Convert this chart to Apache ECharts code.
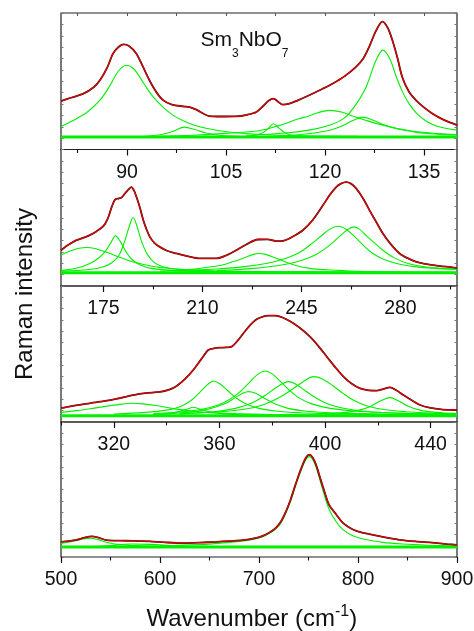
<!DOCTYPE html>
<html><head><meta charset="utf-8">
<script src="https://cdn.jsdelivr.net/npm/echarts@6/dist/echarts.min.js"></script>
<style>html,body{margin:0;padding:0;background:#fff}#c{width:474px;height:631px}</style>
</head><body><div id="c"></div>
<script>
// ---------- axis ranges and tick labels ----------
const p1Range = [80, 140], p1Major = [90, 105, 120, 135], p1Minor = [82.5, 97.5, 112.5, 127.5];
const p2Range = [160, 300], p2Major = [175, 210, 245, 280], p2Minor = [192.5, 227.5, 262.5, 297.5];
const p3Range = [300, 450], p3Major = [320, 360, 400, 440], p3Minor = [300, 340, 380, 420];
const p4Range = [500, 900], p4Major = [500, 600, 700, 800, 900], p4Minor = [550, 650, 750, 850];

// ---------- panel 1 (80-140) ----------
const p1Fit = [[80,4.26],[81.5,4.55],[83.4,4.91],[85,5.5],[85.9,6.09],[87,7.2],[87.9,8.45],[88.8,9.05],[89.5,9.24],[90.3,9.1],[91.4,8.45],[92.4,7.3],[93.4,6.09],[94.5,5.0],[95.5,4.32],[96.8,3.95],[98.5,3.79],[99.5,3.72],[100.5,3.5],[102.5,2.94],[104.5,2.9],[106.5,2.91],[108.2,3.05],[109.6,3.29],[110.6,3.8],[111.5,4.3],[112.2,4.47],[112.9,4.2],[113.6,3.94],[114.6,4.03],[115.8,4.3],[117.6,4.77],[119.5,5.3],[121.2,5.8],[123,6.45],[124.7,7.27],[125.8,8.0],[126.7,9.03],[127.7,10.4],[128.7,11.24],[129.5,10.7],[130.2,9.62],[131,8.0],[131.7,6.38],[132.7,5.1],[133.8,4.32],[135,3.7],[136.3,3.15],[138,2.6],[140,2.15]];
const p1Base = [[80,1.09],[140,1.09]];
const p1G1 = [[80,2.03],[82,2.6],[84,3.3],[86,4.4],[87.5,5.7],[88.7,6.9],[89.9,7.41],[91,7.1],[92,6.3],[93,5.4],[94,4.6],[95.5,3.7],[97,3.0],[99,2.4],[101,2.0],[104,1.65],[108,1.4],[115,1.22],[125,1.15],[140,1.1]];
const p1G2 = [[92,1.12],[95,1.3],[97,1.6],[98.7,1.97],[100.3,1.75],[102,1.45],[104,1.25],[108,1.13],[112,1.1]];
const p1G3 = [[106,1.1],[109,1.2],[110.5,1.45],[111.4,1.85],[112.2,2.27],[113,1.9],[114,1.45],[115.5,1.2],[118,1.1]];
const p1G4 = [[95,1.15],[100,1.25],[105,1.42],[110,1.65],[113,2.1],[116,2.7],[117.6,2.95],[119,3.25],[120.7,3.44],[122.5,3.3],[124.2,2.95],[126,2.6],[128,2.25],[131,1.85],[134,1.55],[137,1.4],[140,1.3]];
const p1G5 = [[112,1.15],[116,1.3],[120,1.6],[122.5,2.05],[124.2,2.55],[125.7,2.85],[127.2,2.6],[129,2.15],[131,1.8],[134,1.5],[137,1.35],[140,1.27]];
const p1G6 = [[108,1.25],[114,1.45],[118,1.75],[121,2.2],[123,2.8],[124.7,3.97],[126,5.2],[126.7,6.2],[127.7,7.8],[128.8,8.74],[129.8,8.0],[130.8,6.4],[131.8,5.0],[132.8,3.97],[134,3.1],[135.3,2.5],[137,2.05],[140,1.7]];

// ---------- panel 2 (160-300) ----------
const p2Fit = [[160,3.15],[162.5,3.6],[165.5,4.03],[168,4.25],[170.2,4.47],[172.5,4.8],[174.9,5.25],[176.5,5.9],[178,7.0],[179.1,7.59],[180.5,7.7],[181.4,7.77],[182.5,8.1],[183.4,8.35],[184.9,8.7],[185.8,8.4],[186.7,7.82],[188,6.8],[189.1,5.78],[190.2,5.0],[191.4,4.32],[193,3.8],[194.9,3.44],[197.5,3.1],[200.8,2.86],[205,2.6],[209.1,2.42],[215,2.42],[218.5,2.7],[222,3.15],[225.5,3.65],[229.6,4.09],[233,4.1],[236,3.95],[238.5,3.97],[242,4.35],[245.5,4.9],[249,5.8],[252.6,7.09],[255,8.0],[257.3,8.7],[259,9.0],[260.8,9.13],[262.5,9.0],[264.4,8.56],[266.8,7.7],[269.1,6.65],[271.5,5.6],[273.8,4.61],[276.5,3.7],[279.7,2.86],[282.5,2.45],[285.6,2.13],[291.4,1.84],[298.5,1.64],[300,1.6]];
const p2Base = [[160,1.17],[300,1.17]];
const p2G1 = [[160,2.72],[163,3.05],[166,3.3],[169,3.39],[172,3.3],[175,3.05],[178,2.8],[181,2.5],[185,2.15],[190,1.85],[196,1.6],[205,1.42],[215,1.32],[235,1.25],[260,1.21],[300,1.19]];
const p2G2 = [[160,1.35],[166,1.6],[170,1.95],[173,2.4],[175.5,3.0],[177.5,3.75],[179.3,4.41],[181,3.9],[183,3.0],[185,2.35],[188,1.85],[192,1.55],[200,1.35],[215,1.24],[240,1.2],[300,1.18]];
const p2G3 = [[160,1.3],[170,1.45],[175,1.7],[178,2.05],[180.5,2.7],[182.6,4.0],[184.2,5.3],[185.5,6.02],[186.8,5.3],[188.5,3.9],[190.5,2.8],[193,2.05],[196,1.7],[202,1.45],[215,1.3],[240,1.22],[300,1.18]];
const p2G4 = [[195,1.3],[205,1.45],[212,1.65],[217,1.85],[221,2.15],[225,2.5],[228,2.78],[230,2.86],[232,2.8],[235,2.55],[239,2.15],[243,1.8],[248,1.55],[255,1.4],[265,1.3],[280,1.23],[300,1.2]];
const p2G5 = [[200,1.35],[215,1.5],[225,1.7],[233,2.0],[239,2.4],[244,2.9],[248,3.6],[252,4.4],[255,5.0],[257.9,5.25],[261,4.95],[264,4.3],[267,3.55],[270,2.9],[274,2.35],[279,1.95],[285,1.7],[292,1.55],[300,1.47]];
const p2G6 = [[215,1.35],[228,1.55],[238,1.85],[245,2.25],[250,2.75],[254,3.4],[258,4.25],[261,4.9],[263.4,5.2],[265.5,5.0],[268,4.4],[271,3.75],[274,3.1],[278,2.45],[283,1.95],[290,1.65],[300,1.48]];

// ---------- panel 3 (300-450) ----------
const p3Fit = [[300,1.22],[305,1.45],[310,1.62],[314.8,1.79],[320,2.0],[327.4,2.38],[332,2.55],[337.5,2.65],[341,2.85],[343.8,3.18],[347,3.8],[350.1,4.59],[353,5.5],[355.8,6.35],[358,6.5],[360.2,6.56],[362.5,6.58],[364.7,6.65],[367,7.2],[369.1,7.83],[371.5,8.5],[374.1,9.06],[376.5,9.3],[378.5,9.38],[381,9.38],[383,9.3],[385.5,9.05],[388,8.71],[391,8.2],[394.3,7.53],[397.5,6.7],[400.7,5.76],[404,4.8],[407,4.0],[410,3.4],[413.3,2.97],[416.5,2.8],[419.6,2.76],[422,2.9],[424.6,3.06],[427,2.8],[429.7,2.38],[433,1.9],[436,1.5],[440,1.25],[444,1.12],[448.6,1.06],[450,1.05]];
const p3Base = [[300,0.56],[450,0.56]];
const p3G1 = [[300,0.85],[306,1.0],[312,1.2],[318,1.42],[323,1.58],[326.8,1.65],[331,1.6],[336,1.45],[342,1.2],[348,1.0],[355,0.85],[365,0.74],[380,0.66],[400,0.62],[450,0.58]];
const p3G2 = [[335,0.62],[341,0.75],[345,0.95],[348,1.15],[350.1,1.3],[352.5,1.15],[356,0.92],[361,0.74],[368,0.64],[380,0.6]];
const p3G3 = [[320,0.7],[332,0.85],[340,1.05],[345,1.35],[349,1.85],[352.5,2.6],[355.5,3.3],[357.7,3.62],[360,3.4],[363,2.8],[366.5,2.1],[370,1.6],[375,1.2],[382,0.95],[392,0.8],[410,0.7],[440,0.63]];
const p3G4 = [[335,0.68],[348,0.85],[356,1.15],[362,1.6],[366,2.15],[369,2.55],[371,2.68],[373.5,2.55],[377,2.1],[381,1.6],[386,1.2],[393,0.95],[405,0.78],[425,0.68],[450,0.63]];
const p3G5 = [[335,0.75],[348,0.95],[356,1.25],[362,1.75],[367,2.5],[371,3.4],[374.5,4.2],[377.3,4.5],[380,4.25],[383,3.6],[386.5,2.8],[390,2.15],[395,1.6],[402,1.2],[412,0.95],[430,0.76],[450,0.68]];
const p3G6 = [[345,0.72],[358,0.9],[366,1.2],[372,1.65],[377,2.3],[381,2.95],[384,3.4],[386.1,3.56],[388.5,3.4],[392,2.85],[396,2.2],[400,1.7],[406,1.25],[415,0.95],[430,0.76],[450,0.68]];
const p3G7 = [[345,0.72],[360,0.9],[370,1.15],[377,1.55],[383,2.2],[388,2.95],[392,3.6],[395.6,4.0],[399,3.8],[403,3.2],[407,2.5],[411,1.9],[416,1.42],[423,1.08],[432,0.88],[450,0.72]];
const p3G8 = [[400,0.7],[408,0.85],[413,1.05],[417,1.35],[421,1.85],[424.6,2.15],[428,1.85],[431.5,1.4],[436,1.05],[442,0.85],[450,0.74]];

// ---------- panel 4 (500-900) ----------
const p4Fit = [[500,1.35],[508,1.42],[515.8,1.53],[523,1.7],[530.9,1.83],[538,1.72],[546,1.5],[560,1.45],[572.8,1.44],[590,1.38],[605,1.3],[623.2,1.24],[640,1.28],[656.9,1.35],[670,1.42],[683.7,1.5],[695,1.65],[703.8,1.88],[711,2.2],[717.3,2.62],[722.5,3.2],[727.4,4.09],[731.5,5.0],[735.8,6.15],[740,7.25],[744.1,8.21],[747.5,8.85],[750.9,9.09],[754.2,8.85],[757.6,8.21],[761.5,7.1],[766,5.85],[771,4.6],[777.8,3.8],[784,3.1],[791.2,2.62],[799,2.3],[808,2.09],[825,1.78],[841.6,1.53],[858,1.38],[875.1,1.27],[890,1.15],[900,1.08]];
const p4Base = [[500,0.88],[900,0.88]];
const p4G1 = [[500,1.2],[510,1.35],[520,1.55],[529,1.68],[538,1.52],[548,1.27],[560,1.1],[580,0.99],[620,0.94],[700,0.92]];
const p4G2 = [[600,1.0],[640,1.1],[670,1.3],[690,1.5],[703.8,1.8],[711,2.12],[717.3,2.52],[722.5,3.08],[727.4,3.95],[731.5,4.85],[735.8,6.0],[740,7.1],[744.1,8.05],[747.5,8.68],[750.9,8.92],[754.2,8.68],[757.6,8.0],[761.5,6.85],[766,5.5],[771,4.2],[777.8,3.15],[784,2.5],[791.2,2.05],[799,1.75],[808,1.55],[825,1.3],[845,1.15],[870,1.05],[900,0.98]];
const p4G3 = [[530,0.92],[550,1.02],[570,1.15],[590,1.12],[615,1.0],[640,0.93]];

// ---------- build ----------
const FONT = '"Liberation Sans", Arial, sans-serif';
const panels = [
  {top: 13, height: 136.5, range: p1Range, major: p1Major, minor: p1Minor, fit: p1Fit, base: p1Base, comps: [p1G1,p1G2,p1G3,p1G4,p1G5,p1G6]},
  {top: 149.5, height: 136.5, range: p2Range, major: p2Major, minor: p2Minor, fit: p2Fit, base: p2Base, comps: [p2G1,p2G2,p2G3,p2G4,p2G5,p2G6]},
  {top: 286, height: 136, range: p3Range, major: p3Major, minor: p3Minor, fit: p3Fit, base: p3Base, comps: [p3G1,p3G2,p3G3,p3G4,p3G5,p3G6,p3G7,p3G8]},
  {top: 422, height: 135, range: p4Range, major: p4Major, minor: p4Minor, fit: p4Fit, base: p4Base, comps: [p4G1,p4G2,p4G3]}
];

const grid = [], xAxis = [], yAxis = [], series = [];
panels.forEach((p, i) => {
  grid.push({left: 61, width: 396, top: p.top, height: p.height, show: true,
    borderColor: '#222', borderWidth: 1.2, backgroundColor: 'transparent',
    containLabel: false, outerBoundsMode: 'none'});
  xAxis.push({gridIndex: i, type: 'value', min: p.range[0], max: p.range[1], position: 'bottom',
    axisLine: {show: false}, splitLine: {show: false},
    axisTick: {show: true, inside: false, length: 6, customValues: p.major, lineStyle: {color: '#111', width: 1.2}},
    axisLabel: {show: true, customValues: p.major, fontSize: 19.5, color: '#111', fontFamily: FONT, margin: 13,
      showMinLabel: true, showMaxLabel: true}});
  xAxis.push({gridIndex: i, type: 'value', min: p.range[0], max: p.range[1], position: 'bottom',
    axisLine: {show: false}, splitLine: {show: false},
    axisTick: {show: true, inside: false, length: 3.5, customValues: p.minor, lineStyle: {color: '#111', width: 1.1}},
    axisLabel: {show: false}});
  yAxis.push({gridIndex: i, type: 'value', min: 0, max: 12, interval: 1, position: 'left',
    axisLine: {show: false}, splitLine: {show: false}, axisLabel: {show: false},
    axisTick: {show: true, inside: true, length: 2.5, lineStyle: {color: '#777', width: 1}}});
  yAxis.push({gridIndex: i, type: 'value', min: 0, max: 12, interval: 1, position: 'right',
    axisLine: {show: false}, splitLine: {show: false}, axisLabel: {show: false},
    axisTick: {show: true, inside: true, length: 2.5, lineStyle: {color: '#777', width: 1}}});

  const common = {type: 'line', xAxisIndex: 2 * i, yAxisIndex: 2 * i, showSymbol: false, symbol: 'none',
    silent: true, animation: false};
  series.push(Object.assign({}, common, {data: p.base, lineStyle: {color: '#00f000', width: 3}}));
  p.comps.forEach(c => series.push(Object.assign({}, common, {data: c, smooth: 0.35,
    lineStyle: {color: '#00f000', width: 1.1}})));
  series.push(Object.assign({}, common, {data: p.fit, smooth: 0.3, lineStyle: {color: '#222', width: 1.8}}));
  series.push(Object.assign({}, common, {data: p.fit, smooth: 0.3, lineStyle: {color: '#e00000', width: 1.3}}));
});
// top ticks (inward) for the first panel
xAxis.push({gridIndex: 0, type: 'value', min: p1Range[0], max: p1Range[1], position: 'top',
  axisLine: {show: false}, splitLine: {show: false}, axisLabel: {show: false},
  axisTick: {show: true, inside: true, length: 3, customValues: p1Minor.concat(p1Major).sort((a,b)=>a-b),
    lineStyle: {color: '#555', width: 1}}});

const chart = echarts.init(document.getElementById('c'), null, {renderer: 'canvas'});
chart.setOption({
  animation: false,
  backgroundColor: '#fff',
  grid, xAxis, yAxis, series,
  graphic: [
    {type: 'text', x: 200.5, y: 40.0, silent: true, style: {
      text: '{m|Sm}{s|3}{m|NbO}{s|7}', align: 'left', verticalAlign: 'middle', fill: '#111',
      rich: {m: {fontSize: 21, lineHeight: 40, fontFamily: FONT, fill: '#111'},
             s: {fontSize: 12, lineHeight: 12, verticalAlign: 'bottom', fontFamily: FONT, fill: '#111'}}}},
    {type: 'text', x: 146.5, y: 619.7, silent: true, style: {
      text: '{m|Wavenumber (cm}{s|-1}{m|)}', align: 'left', verticalAlign: 'middle', fill: '#111',
      rich: {m: {fontSize: 24, lineHeight: 33, fontFamily: FONT, fill: '#111'},
             s: {fontSize: 16, lineHeight: 16, verticalAlign: 'top', fontFamily: FONT, fill: '#111'}}}},
    {type: 'text', x: 25, y: 294, rotation: Math.PI / 2, silent: true, style: {
      text: 'Raman intensity', fontSize: 24, fontFamily: FONT, fill: '#111', align: 'center', verticalAlign: 'middle'}}
  ]
});
</script>
</body></html>
